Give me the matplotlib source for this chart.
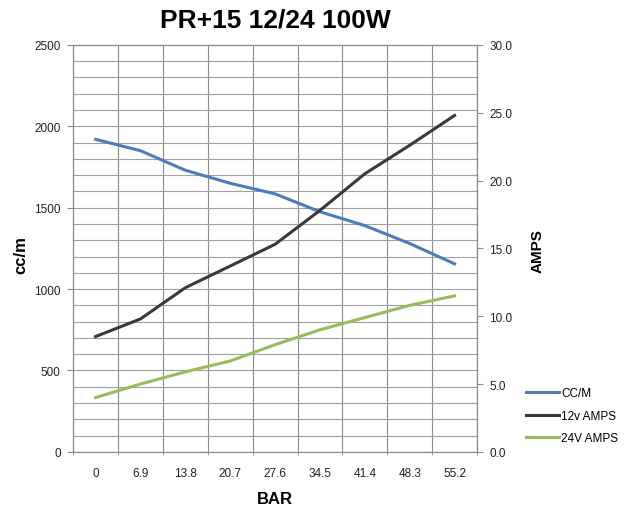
import matplotlib
matplotlib.use("Agg")
import matplotlib.pyplot as plt
import numpy as np

plt.rcParams['font.family'] = ['Liberation Sans', 'DejaVu Sans']

bar = ["0", "6.9", "13.8", "20.7", "27.6", "34.5", "41.4", "48.3", "55.2"]
ccm = [1920, 1850, 1730, 1650, 1585, 1475, 1390, 1280, 1155]
amps12 = [8.5, 9.8, 12.1, 13.7, 15.3, 17.8, 20.5, 22.6, 24.8]
amps24 = [4.0, 5.0, 5.9, 6.7, 7.9, 9.0, 9.9, 10.8, 11.5]

fig = plt.figure(figsize=(6.36, 5.10), dpi=100)
ax = fig.add_axes([0.115, 0.112, 0.635, 0.798])
ax2 = ax.twinx()

x = np.arange(len(bar))
l1, = ax.plot(x, ccm, color="#4a7ebb", lw=2.2, label="CC/M")
l2, = ax2.plot(x, amps12, color="#3a3a3a", lw=2.2, label="12v AMPS")
l3, = ax2.plot(x, amps24, color="#9bbb59", lw=2.2, label="24V AMPS")

ax.set_xlim(-0.5, len(bar) - 0.5)
ax.set_ylim(0, 2500)
ax2.set_ylim(0, 30)
ax.set_yticks(np.arange(0, 2501, 500))
ax.set_yticks(np.arange(0, 2501, 100), minor=True)
ax2.set_yticks(np.arange(0, 30.1, 5))
ax2.set_yticklabels([f"{v:.1f}" for v in np.arange(0, 30.1, 5)])
ax.set_xticks(x)
ax.set_xticklabels(bar)
ax.set_xticks(np.arange(-0.5, len(bar), 1), minor=True)

# grid
ax.grid(which="both", axis="y", color="#a0a0a0", lw=0.8)
ax.grid(which="minor", axis="x", color="#8a8a8a", lw=0.8)
ax.set_axisbelow(True)

ax.tick_params(axis="x", which="major", length=0, labelsize=8.5, colors="#222222", pad=11)
ax.tick_params(axis="x", which="minor", length=2, color="#8a8a8a")
ax.tick_params(axis="y", which="major", length=4, labelsize=8.5, color="#8a8a8a", labelcolor="#222222", pad=5)
ax.tick_params(axis="y", which="minor", length=0)
ax2.tick_params(axis="y", length=4, labelsize=8.5, color="#8a8a8a", labelcolor="#222222", pad=5)

for a in (ax, ax2):
    for s in a.spines.values():
        s.set_color("#8a8a8a")
        s.set_linewidth(0.8)

ax.set_xlabel("BAR", fontsize=12, fontweight="bold")
ax.xaxis.set_label_coords(0.5, -0.095)
ax.set_ylabel("cc/m", fontsize=12, fontweight="bold")
ax.yaxis.set_label_coords(-0.111, 0.486)
ax2.set_ylabel("AMPS", fontsize=11, fontweight="bold", rotation=90)
ax2.yaxis.set_label_coords(1.134, 0.496)
ax.set_title("PR+15 12/24 100W", fontsize=19, fontweight="bold", pad=13)

fig.legend(handles=[l1, l2, l3], loc="upper left", bbox_to_anchor=(0.81, 0.26),
           frameon=False, fontsize=8.5, handlelength=2.8, handletextpad=0.2,
           labelspacing=0.9)

fig.savefig("out.png", dpi=100)
